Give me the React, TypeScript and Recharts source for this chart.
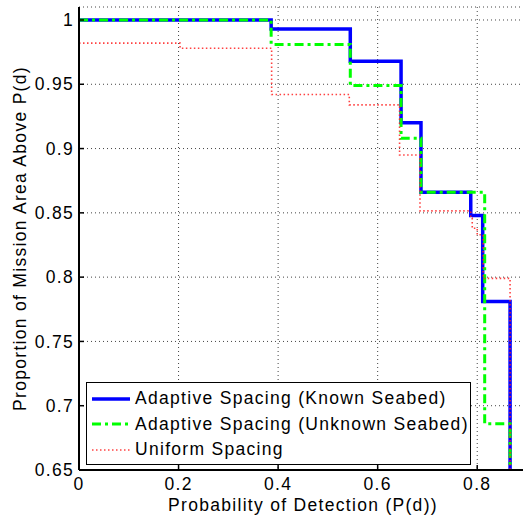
import React from 'react';
import { LineChart, Line, XAxis, YAxis, CartesianGrid, Legend } from 'recharts';

const xTicks = [0, 0.2, 0.4, 0.6, 0.8];
const yTicks = [0.65, 0.7, 0.75, 0.8, 0.85, 0.9, 0.95, 1];

const knownX = [0, 0.386, 0.545, 0.647, 0.687, 0.787, 0.811, 0.866];
const knownY = [1, 0.993, 0.968, 0.92, 0.866, 0.848, 0.781, 0.6];

const unknownX = [0, 0.386, 0.545, 0.647, 0.687, 0.815, 0.866];
const unknownY = [1, 0.981, 0.949, 0.908, 0.866, 0.686, 0.6];

const uniformX = [0, 0.203, 0.387, 0.543, 0.644, 0.685, 0.787, 0.79, 0.8, 0.812, 0.866];
const uniformY = [0.982, 0.978, 0.942, 0.934, 0.895, 0.8515, 0.846, 0.838, 0.833, 0.799, 0.6];

const seriesNames = [
  'Adaptive Spacing (Known Seabed)',
  'Adaptive Spacing (Unknown Seabed)',
  'Uniform Spacing',
];

const build = (xs: number[], ys: number[]) => xs.map((x, i) => ({ x, y: ys[i] }));

const knownData = build(knownX, knownY);
const unknownData = build(unknownX, unknownY);
const uniformData = build(uniformX, uniformY);

const FONT = '"Liberation Sans", Arial, sans-serif';
const FS = 17.5;
const LS = 1.3;

const styles = [
  { color: '#0000ff', width: 3.5, dash: undefined as string | undefined, opacity: 1 },
  { color: '#00ff00', width: 3, dash: '9 4 3 4', opacity: 1 },
  { color: '#ff2020', width: 1.6, dash: '1.5 2.5', opacity: 0.85 },
];

const YLabel = (props: any) => {
  const vb = props.viewBox || { x: 0, y: 0, width: 0, height: 0 };
  const cx = vb.x + 20;
  const cy = vb.y + vb.height / 2;
  return (
    <text x={cx} y={cy} transform={`rotate(-90 ${cx} ${cy})`} textAnchor="middle" dominantBaseline="central" fontSize={FS} letterSpacing={LS} fontFamily={FONT} fill="#000">
      Proportion of Mission Area Above P(d)
    </text>
  );
};

const XLabel = (props: any) => {
  const vb = props.viewBox || { x: 0, y: 0, width: 0, height: 0 };
  const cx = vb.x + vb.width / 2;
  const cy = vb.y + 35;
  return (
    <text x={cx} y={cy} textAnchor="middle" dominantBaseline="central" fontSize={FS} letterSpacing={LS} fontFamily={FONT} fill="#000">
      Probability of Detection (P(d))
    </text>
  );
};

const LegendBox = () => (
  <div style={{ border: '1.5px solid #000', background: '#fff', width: 383, height: 78, boxSizing: 'content-box', paddingTop: 3, fontFamily: FONT, fontSize: FS, letterSpacing: LS }}>
    {seriesNames.map((n, i) => (
      <div key={n} style={{ height: 25.5, display: 'flex', alignItems: 'center' }}>
        <svg width={48} height={10} style={{ display: 'block', flex: 'none' }}>
          <line x1={5} x2={43} y1={5} y2={5} stroke={styles[i].color} strokeWidth={styles[i].width} strokeDasharray={styles[i].dash} strokeOpacity={styles[i].opacity} />
        </svg>
        <span style={{ whiteSpace: 'nowrap' }}>{n}</span>
      </div>
    ))}
  </div>
);

const tickStyle = { fill: '#000', fontSize: FS, fontFamily: FONT, letterSpacing: LS };

export default function App() {
  return (
    <div style={{ position: 'absolute', left: 0, top: 0, width: 523, height: 518, overflow: 'hidden', background: '#fff' }}>
      <LineChart width={540} height={518} margin={{ top: 7, right: 13, left: 0, bottom: 0 }}>
        <CartesianGrid stroke="#444" strokeDasharray="1 3" strokeWidth={1} />
        <XAxis
          dataKey="x"
          type="number"
          domain={[0, 0.9]}
          allowDataOverflow
          ticks={xTicks}
          tickFormatter={(v: number) => String(v)}
          height={48}
          tickSize={-5}
          tickMargin={13}
          axisLine={{ stroke: '#000', strokeWidth: 2 }}
          tickLine={{ stroke: '#000', strokeWidth: 1.5 }}
          tick={tickStyle}
          label={{ content: XLabel }}
        />
        <XAxis
          xAxisId="top"
          orientation="top"
          type="number"
          domain={[0, 0.9]}
          allowDataOverflow
          ticks={xTicks}
          height={0}
          tickSize={-5}
          axisLine={{ stroke: '#000', strokeWidth: 2 }}
          tickLine={{ stroke: '#000', strokeWidth: 1.5 }}
          tick={() => <g />}
        />
        <YAxis
          type="number"
          domain={[0.65, 1.0101]}
          allowDataOverflow
          ticks={yTicks}
          tickFormatter={(v: number) => String(v)}
          width={79}
          tickSize={-5}
          tickMargin={10}
          axisLine={{ stroke: '#000', strokeWidth: 2 }}
          tickLine={{ stroke: '#000', strokeWidth: 1.5 }}
          tick={tickStyle}
          label={{ content: YLabel }}
        />
        <Legend layout="vertical" align="center" verticalAlign="middle" content={<LegendBox />} wrapperStyle={{ left: 86, top: 382, width: 'auto', height: 'auto' }} />
        <Line data={knownData} dataKey="y" name={seriesNames[0]} type="stepAfter" stroke={styles[0].color} strokeWidth={styles[0].width} dot={false} activeDot={false} isAnimationActive={false} />
        <Line data={unknownData} dataKey="y" name={seriesNames[1]} type="stepAfter" stroke={styles[1].color} strokeWidth={styles[1].width} strokeDasharray={styles[1].dash} dot={false} activeDot={false} isAnimationActive={false} />
        <Line data={uniformData} dataKey="y" name={seriesNames[2]} type="stepAfter" stroke={styles[2].color} strokeWidth={styles[2].width} strokeDasharray={styles[2].dash} strokeOpacity={styles[2].opacity} dot={false} activeDot={false} isAnimationActive={false} />
      </LineChart>
    </div>
  );
}
